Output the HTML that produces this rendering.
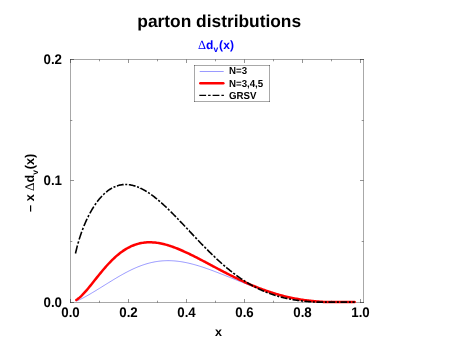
<!DOCTYPE html>
<html><head><meta charset="utf-8"><title>parton distributions</title>
<style>
html,body{margin:0;padding:0;background:#fff;}
body{width:458px;height:354px;overflow:hidden;}
svg{display:block;text-rendering:geometricPrecision;will-change:transform;opacity:0.999;font-family:"Liberation Sans",sans-serif;font-weight:bold;}
.tk{font-size:13.3px;fill:#000;}
.lg{font-size:10.2px;fill:#000;}
</style></head><body>
<svg width="458" height="354" viewBox="0 0 458 354">
<rect width="458" height="354" fill="#fff"/>
<text x="219.2" y="26.8" text-anchor="middle" font-size="17.35" fill="#000">parton distributions</text>
<text y="48.9" font-size="12" fill="#0000ff"><tspan x="198" font-weight="normal" font-family="Liberation Serif" font-size="12.5">&#916;</tspan><tspan>d</tspan><tspan dy="3" font-size="8.5">v</tspan><tspan dy="-3" dx="0.8" letter-spacing="0.25">(x)</tspan></text>
<g transform="translate(33.9,212) rotate(-90)"><text x="0" y="0" font-size="12.7" fill="#000"><tspan>&#8211;</tspan><tspan dx="3.6">x</tspan><tspan dx="3.2" font-weight="normal" font-family="Liberation Serif" font-size="13.2">&#916;</tspan><tspan>d</tspan><tspan dy="3.8" font-size="8.5">v</tspan><tspan dy="-3.8" dx="0.8">(x)</tspan></text></g>
<text x="218.6" y="335.6" text-anchor="middle" font-size="12.5" fill="#000">x</text>
<path d="M70.5,302.5v-3.5M70.5,59.5v3.5M99.5,302.5v-1.8M99.5,59.5v1.8M128.5,302.5v-3.5M128.5,59.5v3.5M157.5,302.5v-1.8M157.5,59.5v1.8M186.5,302.5v-3.5M186.5,59.5v3.5M215.5,302.5v-1.8M215.5,59.5v1.8M244.5,302.5v-3.5M244.5,59.5v3.5M273.5,302.5v-1.8M273.5,59.5v1.8M302.5,302.5v-3.5M302.5,59.5v3.5M331.5,302.5v-1.8M331.5,59.5v1.8M360.5,302.5v-3.5M360.5,59.5v3.5M70.5,302.5h3.5M363.5,302.5h-3.5M70.5,241.5h1.8M363.5,241.5h-1.8M70.5,180.5h3.5M363.5,180.5h-3.5M70.5,120.5h1.8M363.5,120.5h-1.8M70.5,59.5h3.5M363.5,59.5h-3.5" fill="none" stroke="#000" stroke-opacity="0.42" stroke-width="1.0"/>
<g stroke="#000" stroke-opacity="0.34" stroke-width="1.0" fill="none"><path d="M70,59.5H364M70,302.5H364M70.5,59V303M363.5,59V303"/></g>
<g class="tk"><text transform="translate(70.5,317.4) scale(1,1.04)" text-anchor="middle">0.0</text><text transform="translate(128.5,317.4) scale(1,1.04)" text-anchor="middle">0.2</text><text transform="translate(186.5,317.4) scale(1,1.04)" text-anchor="middle">0.4</text><text transform="translate(244.5,317.4) scale(1,1.04)" text-anchor="middle">0.6</text><text transform="translate(302.5,317.4) scale(1,1.04)" text-anchor="middle">0.8</text><text transform="translate(360.5,317.4) scale(1,1.04)" text-anchor="middle">1.0</text><text transform="translate(62,306.6) scale(1,1.04)" text-anchor="end">0.0</text><text transform="translate(62,185.1) scale(1,1.04)" text-anchor="end">0.1</text><text transform="translate(62,63.6) scale(1,1.04)" text-anchor="end">0.2</text></g>
<path d="M76.30,301.14 L77.46,300.67 L78.62,300.16 L79.78,299.62 L80.94,299.05 L82.10,298.46 L83.26,297.86 L84.42,297.23 L85.58,296.59 L86.74,295.95 L87.90,295.29 L89.06,294.62 L90.22,293.94 L91.38,293.26 L92.54,292.57 L93.70,291.87 L94.86,291.17 L96.02,290.47 L97.18,289.76 L98.34,289.04 L99.50,288.33 L100.66,287.61 L101.82,286.89 L102.98,286.17 L104.14,285.45 L105.30,284.73 L106.46,284.01 L107.62,283.29 L108.78,282.57 L109.94,281.86 L111.10,281.15 L112.26,280.44 L113.42,279.73 L114.58,279.03 L115.74,278.33 L116.90,277.64 L118.06,276.96 L119.22,276.28 L120.38,275.62 L121.54,274.96 L122.70,274.31 L123.86,273.66 L125.02,273.03 L126.18,272.41 L127.34,271.81 L128.50,271.21 L129.66,270.63 L130.82,270.05 L131.98,269.50 L133.14,268.95 L134.30,268.43 L135.46,267.91 L136.62,267.41 L137.78,266.93 L138.94,266.47 L140.10,266.02 L141.26,265.58 L142.42,265.17 L143.58,264.77 L144.74,264.39 L145.90,264.03 L147.06,263.68 L148.22,263.36 L149.38,263.05 L150.54,262.76 L151.70,262.49 L152.86,262.24 L154.02,262.00 L155.18,261.79 L156.34,261.60 L157.50,261.42 L158.66,261.26 L159.82,261.12 L160.98,261.00 L162.14,260.90 L163.30,260.82 L164.46,260.75 L165.62,260.71 L166.78,260.68 L167.94,260.67 L169.10,260.68 L170.26,260.70 L171.42,260.74 L172.58,260.80 L173.74,260.87 L174.90,260.96 L176.06,261.07 L177.22,261.19 L178.38,261.33 L179.54,261.49 L180.70,261.65 L181.86,261.84 L183.02,262.03 L184.18,262.24 L185.34,262.47 L186.50,262.70 L187.66,262.95 L188.82,263.21 L189.98,263.49 L191.14,263.77 L192.30,264.07 L193.46,264.38 L194.62,264.69 L195.78,265.02 L196.94,265.36 L198.10,265.70 L199.26,266.06 L200.42,266.42 L201.58,266.79 L202.74,267.17 L203.90,267.56 L205.06,267.95 L206.22,268.35 L207.38,268.76 L208.54,269.17 L209.70,269.59 L210.86,270.01 L212.02,270.44 L213.18,270.87 L214.34,271.31 L215.50,271.75 L216.66,272.19 L217.82,272.64 L218.98,273.09 L220.14,273.54 L221.30,274.00 L222.46,274.45 L223.62,274.91 L224.78,275.37 L225.94,275.83 L227.10,276.29 L228.26,276.76 L229.42,277.22 L230.58,277.68 L231.74,278.14 L232.90,278.61 L234.06,279.07 L235.22,279.53 L236.38,279.99 L237.54,280.45 L238.70,280.91 L239.86,281.36 L241.02,281.81 L242.18,282.27 L243.34,282.72 L244.50,283.16 L245.66,283.61 L246.82,284.05 L247.98,284.49 L249.14,284.92 L250.30,285.36 L251.46,285.78 L252.62,286.21 L253.78,286.63 L254.94,287.05 L256.10,287.46 L257.26,287.87 L258.42,288.28 L259.58,288.68 L260.74,289.08 L261.90,289.47 L263.06,289.86 L264.22,290.24 L265.38,290.62 L266.54,290.99 L267.70,291.36 L268.86,291.72 L270.02,292.08 L271.18,292.43 L272.34,292.77 L273.50,293.11 L274.66,293.45 L275.82,293.78 L276.98,294.10 L278.14,294.42 L279.30,294.73 L280.46,295.03 L281.62,295.33 L282.78,295.63 L283.94,295.91 L285.10,296.19 L286.26,296.47 L287.42,296.74 L288.58,297.00 L289.74,297.25 L290.90,297.50 L292.06,297.74 L293.22,297.98 L294.38,298.21 L295.54,298.43 L296.70,298.64 L297.86,298.85 L299.02,299.05 L300.18,299.25 L301.34,299.44 L302.50,299.62 L303.66,299.80 L304.82,299.97 L305.98,300.13 L307.14,300.29 L308.30,300.44 L309.46,300.58 L310.62,300.72 L311.78,300.85 L312.94,300.97 L314.10,301.09 L315.26,301.21 L316.42,301.31 L317.58,301.41 L318.74,301.51 L319.90,301.60 L321.06,301.68 L322.22,301.76 L323.38,301.84 L324.54,301.91 L325.70,301.97 L326.86,302.03 L328.02,302.08 L329.18,302.10 L330.34,302.10 L331.50,302.10 L332.66,302.10 L333.82,302.10 L334.98,302.10 L336.14,302.10 L337.30,302.10 L338.46,302.10 L339.62,302.10 L340.78,302.10 L341.94,302.10 L343.10,302.10 L344.26,302.10 L345.42,302.10 L346.58,302.10 L347.74,302.10 L348.90,302.10 L350.06,302.10 L351.22,302.10 L352.38,302.10 L353.54,302.10 L354.70,302.10" fill="none" stroke="#0000ff" stroke-width="0.4"/>
<path d="M76.30,300.05 L77.46,299.25 L78.62,298.35 L79.78,297.37 L80.94,296.30 L82.10,295.17 L83.26,293.97 L84.42,292.72 L85.58,291.42 L86.74,290.09 L87.90,288.71 L89.06,287.31 L90.22,285.89 L91.38,284.45 L92.54,282.99 L93.70,281.53 L94.86,280.07 L96.02,278.61 L97.18,277.15 L98.34,275.70 L99.50,274.26 L100.66,272.84 L101.82,271.44 L102.98,270.05 L104.14,268.69 L105.30,267.35 L106.46,266.04 L107.62,264.76 L108.78,263.51 L109.94,262.28 L111.10,261.09 L112.26,259.94 L113.42,258.81 L114.58,257.73 L115.74,256.68 L116.90,255.66 L118.06,254.69 L119.22,253.75 L120.38,252.85 L121.54,251.99 L122.70,251.16 L123.86,250.38 L125.02,249.63 L126.18,248.92 L127.34,248.25 L128.50,247.62 L129.66,247.03 L130.82,246.47 L131.98,245.95 L133.14,245.47 L134.30,245.02 L135.46,244.61 L136.62,244.24 L137.78,243.90 L138.94,243.59 L140.10,243.32 L141.26,243.08 L142.42,242.88 L143.58,242.70 L144.74,242.56 L145.90,242.45 L147.06,242.37 L148.22,242.32 L149.38,242.30 L150.54,242.30 L151.70,242.33 L152.86,242.39 L154.02,242.48 L155.18,242.59 L156.34,242.72 L157.50,242.88 L158.66,243.06 L159.82,243.26 L160.98,243.49 L162.14,243.73 L163.30,244.00 L164.46,244.29 L165.62,244.59 L166.78,244.91 L167.94,245.26 L169.10,245.61 L170.26,245.99 L171.42,246.38 L172.58,246.78 L173.74,247.20 L174.90,247.63 L176.06,248.08 L177.22,248.53 L178.38,249.01 L179.54,249.49 L180.70,249.98 L181.86,250.48 L183.02,250.99 L184.18,251.52 L185.34,252.05 L186.50,252.59 L187.66,253.13 L188.82,253.69 L189.98,254.25 L191.14,254.82 L192.30,255.39 L193.46,255.97 L194.62,256.55 L195.78,257.14 L196.94,257.73 L198.10,258.33 L199.26,258.93 L200.42,259.53 L201.58,260.14 L202.74,260.75 L203.90,261.36 L205.06,261.97 L206.22,262.59 L207.38,263.20 L208.54,263.82 L209.70,264.43 L210.86,265.05 L212.02,265.67 L213.18,266.28 L214.34,266.90 L215.50,267.51 L216.66,268.13 L217.82,268.74 L218.98,269.35 L220.14,269.96 L221.30,270.57 L222.46,271.17 L223.62,271.77 L224.78,272.37 L225.94,272.97 L227.10,273.56 L228.26,274.15 L229.42,274.74 L230.58,275.33 L231.74,275.91 L232.90,276.48 L234.06,277.05 L235.22,277.62 L236.38,278.18 L237.54,278.74 L238.70,279.30 L239.86,279.84 L241.02,280.39 L242.18,280.93 L243.34,281.46 L244.50,281.99 L245.66,282.51 L246.82,283.03 L247.98,283.54 L249.14,284.05 L250.30,284.55 L251.46,285.04 L252.62,285.53 L253.78,286.01 L254.94,286.48 L256.10,286.95 L257.26,287.41 L258.42,287.87 L259.58,288.32 L260.74,288.76 L261.90,289.20 L263.06,289.63 L264.22,290.05 L265.38,290.46 L266.54,290.87 L267.70,291.27 L268.86,291.66 L270.02,292.05 L271.18,292.43 L272.34,292.80 L273.50,293.16 L274.66,293.52 L275.82,293.87 L276.98,294.21 L278.14,294.54 L279.30,294.87 L280.46,295.19 L281.62,295.50 L282.78,295.80 L283.94,296.10 L285.10,296.38 L286.26,296.66 L287.42,296.94 L288.58,297.20 L289.74,297.46 L290.90,297.71 L292.06,297.95 L293.22,298.19 L294.38,298.42 L295.54,298.64 L296.70,298.85 L297.86,299.06 L299.02,299.26 L300.18,299.45 L301.34,299.63 L302.50,299.81 L303.66,299.98 L304.82,300.14 L305.98,300.30 L307.14,300.45 L308.30,300.59 L309.46,300.73 L310.62,300.86 L311.78,300.98 L312.94,301.10 L314.10,301.21 L315.26,301.32 L316.42,301.42 L317.58,301.51 L318.74,301.60 L319.90,301.68 L321.06,301.76 L322.22,301.83 L323.38,301.90 L324.54,301.96 L325.70,302.02 L326.86,302.07 L328.02,302.10 L329.18,302.10 L330.34,302.10 L331.50,302.10 L332.66,302.10 L333.82,302.10 L334.98,302.10 L336.14,302.10 L337.30,302.10 L338.46,302.10 L339.62,302.10 L340.78,302.10 L341.94,302.10 L343.10,302.10 L344.26,302.10 L345.42,302.10 L346.58,302.10 L347.74,302.10 L348.90,302.10 L350.06,302.10 L351.22,302.10 L352.38,302.10 L353.54,302.10 L354.70,302.10" fill="none" stroke="#ff0000" stroke-width="2.5" stroke-linecap="round" stroke-linejoin="round"/>
<path d="M75.49,253.45 L75.55,253.19 L76.24,250.20 L76.94,247.40 L77.44,245.51M77.95,243.65 L77.99,243.51 L78.61,241.35M79.16,239.52 L79.21,239.35 L79.91,237.13 L80.61,235.01 L81.30,232.98 L81.71,231.83M82.37,230.05 L82.41,229.93 L83.11,228.10 L83.21,227.84M83.91,226.08 L83.92,226.05 L84.62,224.36 L85.32,222.73 L86.02,221.15 L86.71,219.63 L87.12,218.77M87.93,217.09 L87.94,217.08 L88.63,215.69 L88.98,215.01M89.85,213.37 L89.86,213.35 L90.55,212.07 L91.25,210.83 L91.95,209.63 L92.65,208.47 L93.35,207.34 L93.80,206.63M94.80,205.10 L94.86,205.02 L95.56,204.00 L96.09,203.24M97.16,201.78 L97.19,201.75 L97.88,200.83 L98.58,199.94 L99.28,199.09 L99.98,198.26 L100.68,197.46 L101.37,196.69 L102.03,195.99M103.25,194.74 L103.29,194.71 L103.99,194.04 L104.69,193.39 L104.84,193.26M106.14,192.13 L106.20,192.08 L106.90,191.51 L107.60,190.97 L108.30,190.45 L108.99,189.96 L109.69,189.49 L110.39,189.04 L111.09,188.61 L111.79,188.21 L112.06,188.06M113.53,187.30 L113.59,187.27 L114.29,186.95 L114.98,186.65 L115.42,186.47M116.95,185.91 L116.96,185.91 L117.66,185.68 L118.36,185.48 L119.06,185.30 L119.75,185.13 L120.45,184.99 L121.15,184.87 L121.85,184.76 L122.55,184.67 L123.24,184.61 L123.65,184.58M125.25,184.51 L125.28,184.51 L125.98,184.51 L126.68,184.54 L127.24,184.56M128.84,184.71 L128.89,184.71 L129.59,184.80 L130.28,184.91 L130.98,185.03 L131.68,185.17 L132.38,185.33 L133.08,185.50 L133.77,185.68 L134.47,185.88 L135.17,186.10 L135.52,186.21M137.06,186.75 L137.09,186.76 L137.79,187.03 L138.49,187.31 L138.96,187.51M140.46,188.18 L140.46,188.19 L141.16,188.52 L141.86,188.87 L142.56,189.22 L143.26,189.60 L143.95,189.98 L144.65,190.37 L145.35,190.78 L146.05,191.20 L146.66,191.57M148.08,192.48 L148.08,192.48 L148.78,192.94 L149.48,193.41 L149.83,193.65M151.22,194.63 L151.22,194.63 L151.92,195.14 L152.62,195.65 L153.32,196.18 L154.02,196.71 L154.71,197.25 L155.41,197.80 L156.11,198.36 L156.81,198.93 L156.97,199.06M158.29,200.16 L158.32,200.19 L159.02,200.78 L159.72,201.38 L159.92,201.56M161.22,202.70 L161.23,202.70 L161.93,203.33 L162.63,203.95 L163.32,204.59 L164.02,205.23 L164.72,205.88 L165.42,206.53 L166.12,207.19 L166.65,207.70M167.91,208.90 L167.92,208.91 L168.62,209.59 L169.31,210.27 L169.47,210.42M170.72,211.65 L170.77,211.70 L171.47,212.40 L172.17,213.10 L172.86,213.80 L173.56,214.51 L174.26,215.21 L174.96,215.93 L175.66,216.64 L175.95,216.95M177.17,218.21 L177.23,218.26 L177.92,218.99 L178.62,219.72 L178.69,219.79M179.91,221.06 L179.96,221.12 L180.66,221.85 L181.36,222.58 L182.05,223.32 L182.75,224.06 L183.45,224.80 L184.15,225.54 L184.85,226.28 L185.05,226.49M186.26,227.78 L186.30,227.82 L187.00,228.57 L187.70,229.31 L187.76,229.38M188.97,230.67 L188.98,230.67 L189.67,231.42 L190.37,232.16 L191.07,232.91 L191.77,233.65 L192.47,234.39 L193.16,235.13 L193.86,235.87 L194.09,236.12M195.30,237.40 L195.32,237.41 L196.01,238.15 L196.71,238.88 L196.81,238.99M198.03,240.27 L198.05,240.29 L198.75,241.02 L199.45,241.75 L200.14,242.48 L200.84,243.20 L201.54,243.93 L202.24,244.65 L202.94,245.36 L203.21,245.64M204.43,246.90 L204.45,246.91 L205.15,247.62 L205.85,248.33 L205.97,248.46M207.20,249.70 L207.24,249.73 L207.94,250.43 L208.64,251.13 L209.34,251.82 L210.03,252.51 L210.73,253.19 L211.43,253.87 L212.13,254.55 L212.50,254.91M213.75,256.12 L213.76,256.12 L214.45,256.78 L215.15,257.44 L215.33,257.61M216.60,258.80 L216.61,258.81 L217.30,259.46 L218.00,260.10 L218.70,260.74 L219.40,261.38 L220.10,262.01 L220.79,262.63 L221.49,263.26 L222.06,263.75M223.36,264.89 L223.41,264.94 L224.11,265.55 L224.81,266.15 L224.99,266.30M226.30,267.41 L226.32,267.43 L227.02,268.01 L227.72,268.59 L228.41,269.17 L229.11,269.74 L229.81,270.30 L230.51,270.86 L231.21,271.41 L231.90,271.96 L231.97,272.01M233.32,273.05 L233.36,273.09 L234.06,273.62 L234.76,274.14 L235.02,274.34M236.38,275.35 L236.38,275.35 L237.08,275.86 L237.78,276.36 L238.48,276.86 L239.18,277.36 L239.87,277.84 L240.57,278.32 L241.27,278.80 L241.97,279.27 L242.28,279.48M243.69,280.41 L243.71,280.42 L244.41,280.87 L245.11,281.32 L245.46,281.54M246.89,282.43 L246.91,282.45 L247.61,282.87 L248.31,283.29 L249.01,283.71 L249.70,284.12 L250.40,284.52 L251.10,284.92 L251.80,285.31 L252.50,285.70 L253.03,285.99M254.49,286.78 L254.53,286.80 L255.23,287.16 L255.93,287.52 L256.33,287.73M257.81,288.47 L257.85,288.49 L258.55,288.83 L259.24,289.16 L259.94,289.49 L260.64,289.82 L261.34,290.14 L262.04,290.45 L262.73,290.76 L263.43,291.06 L264.13,291.36 L264.18,291.38M265.69,292.01 L265.70,292.02 L266.40,292.30 L267.10,292.58 L267.59,292.77M269.12,293.35 L269.13,293.36 L269.83,293.61 L270.53,293.87 L271.23,294.11 L271.93,294.36 L272.62,294.60 L273.32,294.83 L274.02,295.06 L274.72,295.28 L275.42,295.50 L275.67,295.58M277.22,296.05 L277.28,296.07 L277.97,296.27 L278.67,296.47 L279.17,296.61M280.73,297.03 L280.77,297.04 L281.47,297.23 L282.16,297.40 L282.86,297.58 L283.56,297.75 L284.26,297.91 L284.96,298.08 L285.65,298.24 L286.35,298.39 L287.05,298.54 L287.41,298.62M288.98,298.94 L289.03,298.95 L289.73,299.08 L290.42,299.22 L290.96,299.32M292.54,299.60 L292.58,299.60 L293.27,299.72 L293.97,299.84 L294.67,299.95 L295.37,300.06 L296.07,300.17 L296.76,300.27 L297.46,300.37 L298.16,300.47 L298.86,300.56 L299.29,300.62M300.88,300.82 L300.89,300.82 L301.59,300.90 L302.29,300.98 L302.88,301.05M304.47,301.21 L304.50,301.22 L305.20,301.29 L305.90,301.35 L306.59,301.42 L307.29,301.48 L307.99,301.54 L308.69,301.60 L309.39,301.66 L310.08,301.71 L310.78,301.76 L311.25,301.80M312.85,301.90 L312.88,301.90 L313.57,301.95 L314.27,301.99 L314.85,302.02M316.45,302.10 L316.48,302.10 L317.18,302.10 L317.88,302.10 L318.58,302.10 L319.27,302.10 L319.97,302.10 L320.67,302.10 L321.37,302.10 L322.07,302.10 L322.77,302.10 L323.25,302.10M324.85,302.10 L324.86,302.10 L325.56,302.10 L326.26,302.10 L326.85,302.10M328.45,302.10 L328.47,302.10 L329.16,302.10 L329.86,302.10 L330.56,302.10 L331.26,302.10 L331.96,302.10 L332.65,302.10 L333.35,302.10 L334.05,302.10 L334.75,302.10 L335.25,302.10M336.85,302.10 L336.90,302.10 L337.60,302.10 L338.30,302.10 L338.85,302.10M340.45,302.10 L340.45,302.10 L341.15,302.10 L341.84,302.10 L342.54,302.10 L343.24,302.10 L343.94,302.10 L344.64,302.10 L345.33,302.10 L346.03,302.10 L346.73,302.10 L347.25,302.10M348.85,302.10 L348.88,302.10 L349.58,302.10 L350.28,302.10 L350.85,302.10M352.45,302.10 L352.49,302.10 L353.19,302.10 L353.89,302.10 L354.58,302.10 L354.70,302.10" fill="none" stroke="#000" stroke-width="1.6"/>
<rect x="194" y="65" width="76" height="37" fill="#fff"/><g stroke="#000" stroke-opacity="0.34" stroke-width="1.0" fill="none"><path d="M194,65.5H270M194,101.5H270M194.5,65V102M269.5,65V102"/></g>
<line x1="199.7" x2="223.7" y1="71.5" y2="71.5" stroke="#0000ff" stroke-width="0.4"/>
<line x1="200.3" x2="223.3" y1="83.3" y2="83.3" stroke="#ff0000" stroke-width="2.5" stroke-linecap="round"/>
<line x1="199.3" x2="224.3" y1="95.4" y2="95.4" stroke="#000" stroke-width="1.4" stroke-dasharray="6.8 2 2.5 2"/>
<g class="lg"><text transform="translate(229,74.1) scale(0.95,1)">N=3</text><text transform="translate(229,86.6) scale(0.95,1)">N=3,4,5</text><text transform="translate(229,98.6) scale(0.95,1)">GRSV</text></g>
</svg>
</body></html>
